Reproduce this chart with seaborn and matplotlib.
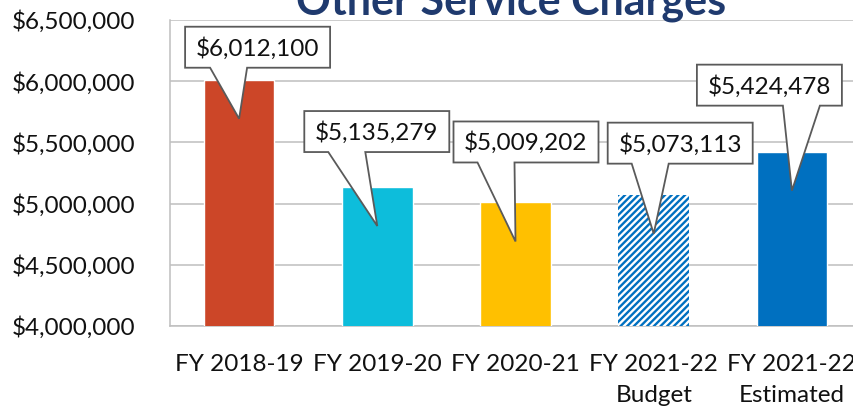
import seaborn as sns
import matplotlib.pyplot as plt
import matplotlib.transforms as mtransforms
from matplotlib.patches import Polygon
from matplotlib.ticker import FuncFormatter

# chart data
categories = ['FY 2018-19', 'FY 2019-20', 'FY 2020-21',
              'FY 2021-22\nBudget', 'FY 2021-22\nEstimated']
values = [6012100, 5135279, 5009202, 5073113, 5424478]
bar_colors = ['#CC4628', '#0DBDDB', '#FFC000', '#0070C0', '#0070C0']
yticks = [4000000, 4500000, 5000000, 5500000, 6000000, 6500000]

# callout boxes, in pixels relative to the pointer tip
box_left = [-54, -73, -62, -46, -95]
box_bottom = [51, 74, 79, 70, 85]
base_start = [25, 24, 24, 24, 86]

sns.set_style('white')
plt.rcParams['font.family'] = ['Lato', 'DejaVu Sans']
plt.rcParams['hatch.linewidth'] = 1.7

fig = plt.figure(figsize=(8.54, 4.08), dpi=100)
ax = fig.add_axes([170 / 854, 82 / 408, 691 / 854, 306 / 408])

sns.barplot(x=categories, y=values, hue=categories, palette=bar_colors,
            saturation=1, legend=False, width=0.51, ax=ax, zorder=3)

# budget bar is a striped pattern
hb = ax.patches[3]
hb.set_facecolor('white')
hb.set_edgecolor('#0070C0')
hb.set_hatch('/////')
hb.set_linewidth(0)

grid_c = '#BFBFBF'
ax.set_ylim(4000000, 6500000)
ax.set_yticks(yticks)
ax.yaxis.set_major_formatter(FuncFormatter(lambda v, p: f'${v:,.0f}'))
ax.grid(axis='y', color=grid_c, lw=1.1)
ax.set_axisbelow(True)
ax.set_xlim(-0.5, 4.5)
ax.set_xticks([-0.5, 0.5, 1.5, 2.5, 3.5, 4.5])
ax.set_xticklabels([])
ax.set_xticks(range(len(categories)), minor=True)
ax.set_xticklabels(categories, minor=True, linespacing=1.55)
ax.set_xlabel('')
ax.set_ylabel('')

ax.tick_params(axis='y', length=6, width=1.1, color=grid_c, pad=19,
               labelsize=17.5, labelcolor='#111111')
ax.tick_params(axis='x', which='major', length=6.5, width=1.1, color=grid_c,
               direction='out')
ax.tick_params(axis='x', which='minor', length=0, pad=20.5,
               labelsize=17.5, labelcolor='#111111')
for s in ['top', 'right']:
    ax.spines[s].set_visible(False)
for s in ['left', 'bottom']:
    ax.spines[s].set_color(grid_c)
    ax.spines[s].set_linewidth(1.1)

# callouts: box plus pointer as one outline
W, H, BW, DROP = 145, 41, 37, 39
for i, v in enumerate(values):
    trans = fig.dpi_scale_trans + mtransforms.ScaledTranslation(i, v, ax.transData)
    L = box_left[i]
    B = box_bottom[i] - DROP
    T = B + H
    R = L + W
    b0 = L + base_start[i]
    pts = [(0, -DROP), (b0, B), (L, B), (L, T), (R, T), (R, B), (b0 + BW, B)]
    pts = [(x / fig.dpi, y / fig.dpi) for x, y in pts]
    ax.add_patch(Polygon(pts, closed=True, transform=trans, facecolor='white',
                         edgecolor='#5A5A5A', lw=1.3, zorder=6, clip_on=False))
    ax.text((L + W / 2) / fig.dpi, (B + H / 2 - 1) / fig.dpi, f'${v:,}',
            transform=trans, ha='center', va='center', fontsize=17.5,
            color='#111111', zorder=7, clip_on=False)

fig.text(511 / 854, 1 - 14 / 408, 'Other Service Charges', ha='center',
         va='baseline', fontsize=31, fontweight='bold', color='#1F3A6E')

fig.savefig('out.png', dpi=100)
